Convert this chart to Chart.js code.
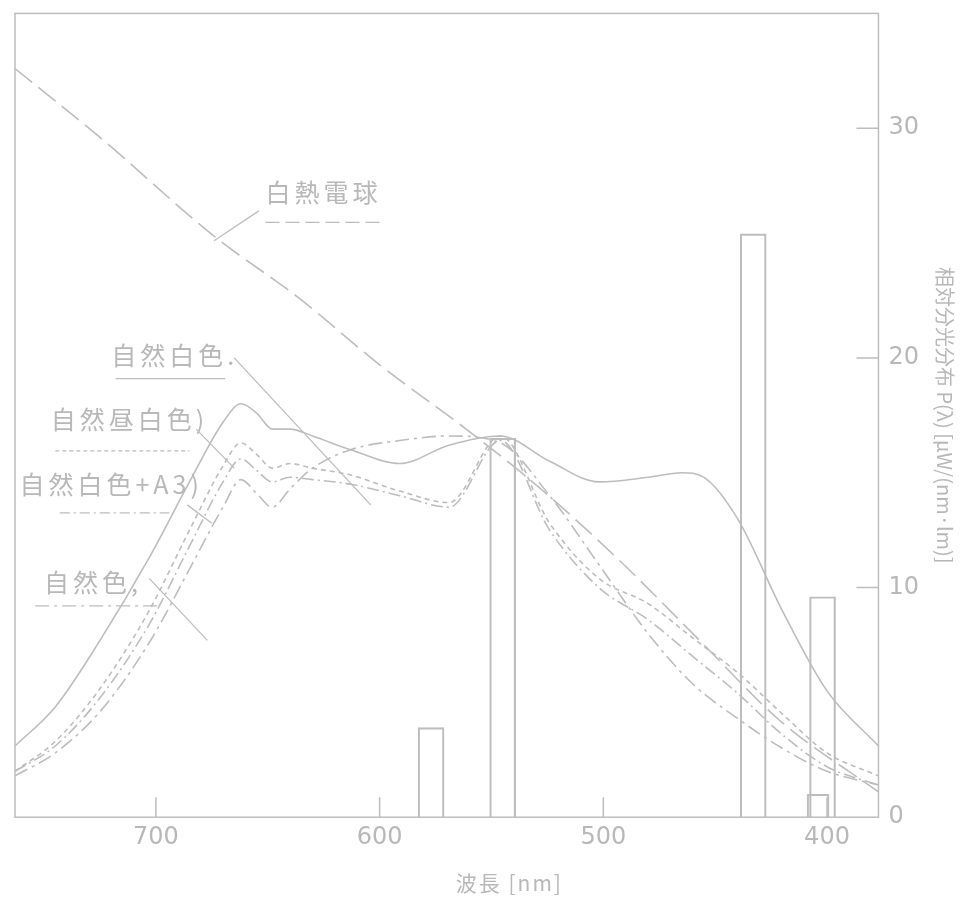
<!DOCTYPE html>
<html lang="ja">
<head>
<meta charset="UTF-8">
<title>分光分布</title>
<script src="https://cdn.jsdelivr.net/npm/chart.js"></script>
<style>
  html, body { margin: 0; padding: 0; background: #fff; }
  #wrap { width: 972px; height: 909px; overflow: hidden; position: relative; }
  #chart { position: absolute; left: 0; top: -11px; }
</style>
</head>
<body>
<div id="wrap"><canvas id="chart" width="972" height="924"></canvas></div>
<script>
// wavelengths (nm) and relative values
const incandWl   = [763, 725, 674, 636, 600, 560, 528, 493, 457, 421, 377];
const incandVal  = [32.6, 29.6, 25.3, 22.6, 19.7, 16.8, 14.3, 11.2, 7.7, 4.2, 1.1];

const whiteWl    = [763, 745, 725, 703, 685, 670, 662, 655, 648, 640, 630, 613, 591, 569, 546, 524, 502, 480, 465, 455, 440, 420, 400, 377];
const whiteVal   = [3.1, 4.8, 7.7, 11.3, 14.6, 17.2, 18.0, 17.6, 16.9, 16.9, 16.6, 16.0, 15.4, 16.2, 16.6, 15.5, 14.6, 14.8, 15.0, 14.8, 13.0, 9.0, 5.5, 3.1];

const dayWl      = [763, 745, 725, 703, 685, 670, 662, 655, 648, 640, 630, 613, 591, 569, 546, 524, 502, 480, 460, 440, 420, 400, 377];
const dayVal     = [2.0, 3.3, 5.6, 9.0, 12.5, 15.3, 16.3, 15.8, 15.2, 15.4, 15.2, 14.9, 14.2, 13.7, 16.6, 12.8, 10.4, 9.3, 7.8, 6.3, 4.5, 2.8, 1.8];

const a3Wl       = [763, 745, 725, 703, 685, 670, 662, 655, 648, 640, 630, 613, 591, 569, 546, 524, 502, 480, 460, 440, 420, 400, 377];
const a3Val      = [2.0, 3.1, 5.2, 8.4, 11.8, 14.6, 15.6, 15.1, 14.6, 14.8, 14.7, 14.5, 14.0, 13.5, 16.4, 12.5, 10.0, 8.6, 7.0, 5.4, 3.6, 2.2, 1.4];

const naturalWl  = [763, 745, 725, 703, 685, 670, 662, 655, 648, 640, 630, 613, 591, 569, 546, 524, 502, 480, 460, 440, 420, 400, 377];
const naturalVal = [1.8, 2.8, 4.6, 7.6, 10.8, 13.5, 14.7, 14.1, 13.5, 14.3, 15.2, 16.0, 16.4, 16.6, 16.3, 14.0, 11.0, 8.0, 5.8, 4.3, 3.0, 2.0, 1.4];

// mercury lines as drawn (bar centres), plus the small box at the foot of the 405 line
const hgWl    = [577, 545, 433, 402];
const hgVal   = [3.9, 16.5, 25.4, 9.6];
const hgLowWl  = [404];
const hgLowVal = [1.0];

const xTicks = [400, 500, 600, 700];
const yTicks = [0, 10, 20, 30];

const pts = (xs, ys) => xs.map((x, i) => ({ x: x, y: ys[i] }));
const ink = '#bdbdbd';
const txt = '#b8b8b8';

// label: text (left edge, middle), underline from u0 to u1 at uy, arrow a0 -> a1
const notes = [
  { text: '白熱電球',     tx: 651, ty: 27.2, u0: 651, u1: 600, uy: 25.9, a0: [654, 26.4], a1: [674, 25.1], dash: [14, 6] },
  { text: '自然白色.',    tx: 720, ty: 20.1, u0: 718, u1: 669, uy: 19.1, a0: [665, 20.0], a1: [604, 13.6], dash: [] },
  { text: '自然昼白色)',   tx: 747, ty: 17.3, u0: 745, u1: 685, uy: 15.95, a0: [682, 16.9], a1: [665, 15.2], dash: [4, 3] },
  { text: '自然白色+A3)', tx: 761, ty: 14.5, u0: 743, u1: 694, uy: 13.25, a0: [686, 13.6], a1: [675, 12.8], dash: [10, 4, 2, 4] },
  { text: '自然色,',      tx: 750, ty: 10.2, u0: 754, u1: 698, uy: 9.2,  a0: [703, 10.4], a1: [677, 7.7],  dash: [14, 5, 3, 5] }
];

const notePlugin = {
  id: 'notes',
  afterDatasetsDraw(chart) {
    const { ctx, chartArea: a, scales: { x, y } } = chart;
    ctx.save();
    ctx.font = '25px "Noto Sans CJK JP"';
    ctx.letterSpacing = '4px';
    ctx.fillStyle = txt;
    ctx.strokeStyle = ink;
    ctx.lineWidth = 1.3;
    notes.forEach(n => {
      ctx.textAlign = 'left';
      ctx.textBaseline = 'middle';
      ctx.fillText(n.text, x.getPixelForValue(n.tx), y.getPixelForValue(n.ty));
      const uy = y.getPixelForValue(n.uy);
      ctx.setLineDash(n.dash);
      ctx.beginPath();
      ctx.moveTo(x.getPixelForValue(n.u0), uy);
      ctx.lineTo(x.getPixelForValue(n.u1), uy);
      ctx.stroke();
      ctx.setLineDash([]);
      ctx.beginPath();
      ctx.moveTo(x.getPixelForValue(n.a0[0]), y.getPixelForValue(n.a0[1]));
      ctx.lineTo(x.getPixelForValue(n.a1[0]), y.getPixelForValue(n.a1[1]));
      ctx.stroke();
    });
    // x axis title sits right of centre in the scan
    ctx.letterSpacing = '2px';
    ctx.font = '21px "Noto Sans CJK JP"';
    ctx.textAlign = 'center';
    ctx.fillText('波長 [nm]', x.getPixelForValue(542), a.bottom + 66);
    ctx.restore();
  }
};

// box around the plot and inward tick marks
const frame = {
  id: 'frame',
  beforeDatasetsDraw(chart) {
    const { ctx, chartArea: a, scales: { x, y } } = chart;
    ctx.save();
    ctx.strokeStyle = ink;
    ctx.lineWidth = 1.5;
    ctx.strokeRect(a.left, a.top, a.right - a.left, a.bottom - a.top);
    ctx.beginPath();
    xTicks.forEach(v => {
      const px = x.getPixelForValue(v);
      ctx.moveTo(px, a.bottom);
      ctx.lineTo(px, a.bottom - 20);
    });
    yTicks.slice(1).forEach(v => {
      const py = y.getPixelForValue(v);
      ctx.moveTo(a.right, py);
      ctx.lineTo(a.right - 22, py);
    });
    ctx.stroke();
    ctx.restore();
  }
};

const lineDs = (label, xs, ys, dash) => ({
  type: 'line', label: label, data: pts(xs, ys),
  borderColor: ink, borderWidth: 1.6, borderDash: dash,
  pointRadius: 0, cubicInterpolationMode: 'monotone', fill: false, order: 1
});

const barDs = (label, xs, ys, w) => ({
  type: 'bar', label: label, data: pts(xs, ys), grouped: false,
  backgroundColor: 'rgba(255,255,255,0)', borderColor: ink, borderWidth: 1.5,
  barThickness: w, order: 2
});

new Chart(document.getElementById('chart'), {
  data: {
    datasets: [
      lineDs('白熱電球', incandWl, incandVal, [22, 8]),
      lineDs('自然白色', whiteWl, whiteVal, []),
      lineDs('自然昼白色', dayWl, dayVal, [5, 4]),
      lineDs('自然白色+A3', a3Wl, a3Val, [12, 4, 2, 4]),
      lineDs('自然色', naturalWl, naturalVal, [14, 5, 3, 5]),
      barDs('水銀輝線', hgWl, hgVal, 26),
      barDs('水銀輝線 (小)', hgLowWl, hgLowVal, 22)
    ]
  },
  options: {
    responsive: false,
    animation: false,
    layout: { padding: { left: 15, top: 0, right: 7, bottom: 17 } },
    plugins: { legend: { display: false }, tooltip: { enabled: false } },
    scales: {
      x: {
        type: 'linear', reverse: true, min: 377, max: 763, offset: false,
        afterBuildTicks: s => { s.ticks = xTicks.map(v => ({ value: v })); },
        grid: { display: false, drawTicks: false },
        border: { display: false },
        ticks: { color: txt, font: { size: 24, family: 'DejaVu Sans' }, padding: 6 },
        // space kept for the title, which notePlugin draws off-centre
        title: { display: true, text: '波長 [nm]', color: 'rgba(0,0,0,0)', font: { size: 20, family: 'Noto Sans CJK JP' }, padding: { top: 10 } }
      },
      y: {
        position: 'right', min: 0, max: 35,
        afterBuildTicks: s => { s.ticks = yTicks.map(v => ({ value: v })); },
        grid: { display: false, drawTicks: false },
        border: { display: false },
        ticks: { color: txt, font: { size: 24, family: 'DejaVu Sans' }, padding: 10 },
        title: { display: true, text: '相対分光分布 P(λ) [μW/(nm·lm)]', color: txt, font: { size: 20, family: 'Noto Sans CJK JP' }, padding: { top: 8 } }
      }
    }
  },
  plugins: [frame, notePlugin]
});
</script>
</body>
</html>
